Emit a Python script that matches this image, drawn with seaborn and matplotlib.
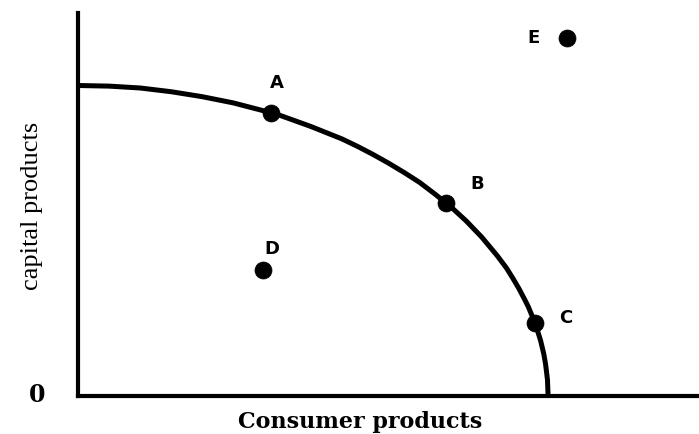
import matplotlib
matplotlib.use("Agg")
import matplotlib.pyplot as plt
import seaborn as sns
import pandas as pd

# Production possibilities frontier: consumer products (x) vs capital products (y)
frontier_consumer = [0.0, 0.5, 1.0, 1.5, 2.0, 2.5, 3.0, 3.25, 3.5, 3.75, 4.0,
                     4.25, 4.5, 4.75, 5.0, 5.25, 5.5, 5.75, 6.0, 6.25, 6.5,
                     6.75, 6.9, 7.0, 7.1, 7.2, 7.25, 7.3, 7.4, 7.45, 7.5,
                     7.53, 7.56, 7.57]
frontier_capital = [5.00, 4.99, 4.96, 4.90, 4.82, 4.72, 4.59, 4.52, 4.43, 4.34,
                    4.24, 4.14, 4.02, 3.89, 3.75, 3.60, 3.44, 3.25, 3.05, 2.82,
                    2.56, 2.26, 2.06, 1.90, 1.73, 1.54, 1.44, 1.32, 1.05, 0.89,
                    0.68, 0.51, 0.26, 0.0]

# Labelled production points
point_labels = ["A", "B", "C", "D", "E"]
point_consumer = [3.11, 5.93, 7.36, 2.98, 7.87]
point_capital = [4.55, 3.10, 1.17, 2.03, 5.76]

frontier = pd.DataFrame({"consumer": frontier_consumer, "capital": frontier_capital})
points = pd.DataFrame({"label": point_labels, "consumer": point_consumer,
                       "capital": point_capital})

sns.set_style("white")

W, H = 699, 434
fig = plt.figure(figsize=(W / 100, H / 100), dpi=100)
ax = fig.add_axes([78 / W, 38 / H, (W - 78) / W, 383 / H])

sns.lineplot(data=frontier, x="consumer", y="capital", ax=ax, color="black",
             linewidth=3.6, sort=False, estimator=None,
             solid_joinstyle="round", solid_capstyle="butt")
sns.scatterplot(data=points, x="consumer", y="capital", ax=ax, color="black",
                s=150, edgecolor="black", linewidth=0.5, zorder=5)

# Letter offsets (points) from each marker
offsets = {"A": (4, 22), "B": (22, 14), "C": (22, 4), "D": (6, 15), "E": (-24, 0)}
for lab, cx, cy in zip(point_labels, point_consumer, point_capital):
    dx, dy = offsets[lab]
    ax.annotate(lab, (cx, cy), xytext=(dx, dy), textcoords="offset points",
                ha="center", va="center", fontsize=13, fontweight="bold",
                family="DejaVu Sans", color="black")

ax.set_xlim(0, 10)
ax.set_ylim(0, 383 / 62.1)
ax.set_xticks([])
ax.set_yticks([])
ax.set_xlabel("")
ax.set_ylabel("")
for side in ("top", "right"):
    ax.spines[side].set_visible(False)
for side in ("left", "bottom"):
    ax.spines[side].set_linewidth(3.0)
    ax.spines[side].set_color("black")

fig.text(37 / W, 1 - 395 / H, "0", ha="center", va="center", fontsize=17,
         fontweight="bold", family="DejaVu Serif", color="black")
fig.text(32 / W, 1 - 206 / H, "capital products", ha="center", va="center",
         rotation=90, fontsize=19, family="Liberation Serif", color="black")
fig.text(360 / W, 1 - 422 / H, "Consumer products", ha="center", va="center",
         fontsize=16, fontweight="bold", family="DejaVu Serif", color="black")

fig.savefig("out.png", dpi=100)
